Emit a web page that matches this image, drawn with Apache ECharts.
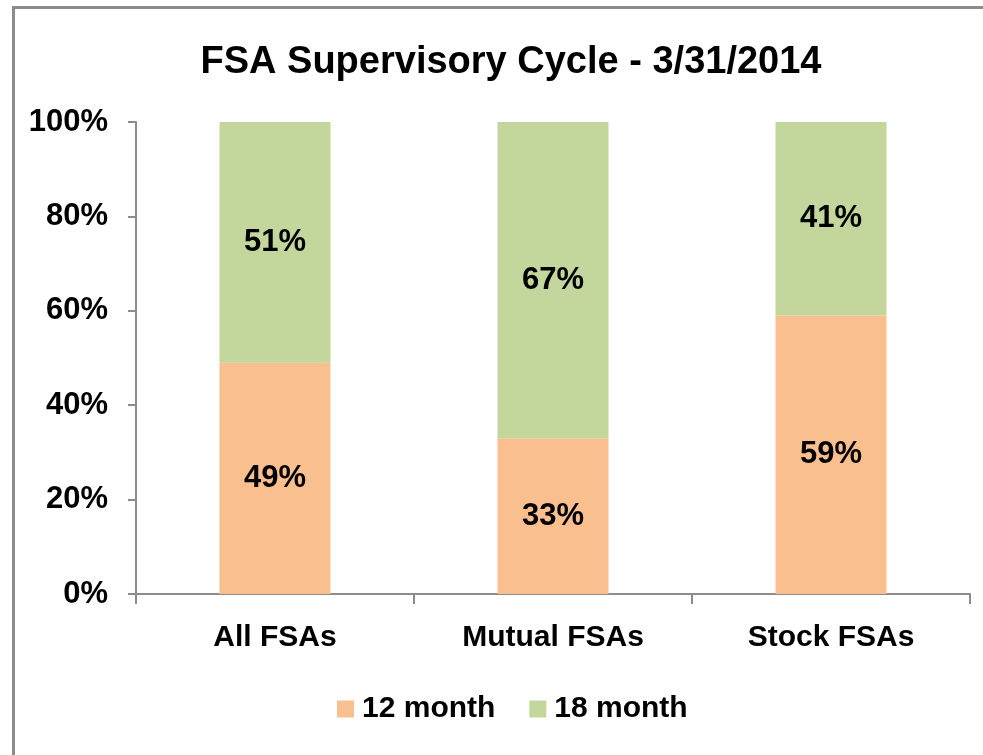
<!DOCTYPE html>
<html>
<head>
<meta charset="utf-8">
<script src="https://cdn.jsdelivr.net/npm/echarts@6/dist/echarts.min.js"></script>
<style>
  html, body { margin: 0; padding: 0; background: #fff; }
  #frame {
    position: absolute; left: 12px; top: 6px; width: 1000px; height: 800px;
    border-left: 3px solid #8c8c8c; border-top: 3px solid #8c8c8c;
  }
  #chart { position: absolute; left: 0; top: 0; width: 983px; height: 755px; }
</style>
</head>
<body>
<div id="frame"></div>
<div id="chart"></div>
<script>
const categories = ['All FSAs', 'Mutual FSAs', 'Stock FSAs']
const month12 = [49, 33, 59]
const month18 = [51, 67, 41]
const yTicks = [0, 20, 40, 60, 80, 100]

const font = 'Arial, "Liberation Sans", sans-serif'
const chart = echarts.init(document.getElementById('chart'))

const labelStyle = {
  show: true,
  position: 'inside',
  formatter: '{c}%',
  color: '#000',
  fontWeight: 'bold',
  fontSize: 31,
  fontFamily: font
}

chart.setOption({
  animation: false,
  title: {
    text: 'FSA Supervisory Cycle - 3/31/2014',
    left: 506,
    textAlign: 'center',
    top: 39,
    textStyle: { fontSize: 38, fontWeight: 'bold', color: '#000', fontFamily: font }
  },
  legend: {
    left: 332,
    top: 689,
    itemWidth: 17,
    itemHeight: 17,
    itemGap: 34,
    icon: 'rect',
    textStyle: { fontSize: 30, fontWeight: 'bold', color: '#000', fontFamily: font, padding: [0, 0, 0, 3] },
    data: ['12 month', '18 month']
  },
  grid: { left: 136, right: 13, top: 122, bottom: 161 },
  xAxis: {
    type: 'category',
    data: categories,
    axisLine: { lineStyle: { color: '#8c8c8c', width: 2 } },
    axisTick: { show: true, length: 10, inside: false, lineStyle: { color: '#8c8c8c', width: 2 } },
    axisLabel: { color: '#000', fontSize: 30, fontWeight: 'bold', fontFamily: font, margin: 29 }
  },
  yAxis: {
    type: 'value',
    min: 0,
    max: 100,
    interval: 20,
    axisLine: { show: true, lineStyle: { color: '#8c8c8c', width: 2 } },
    axisTick: { show: true, length: 8, lineStyle: { color: '#8c8c8c', width: 2 } },
    splitLine: { show: false },
    axisLabel: {
      color: '#000', fontSize: 31, fontWeight: 'bold', fontFamily: font, margin: 28,
      formatter: v => (yTicks.includes(v) ? v + '%' : '')
    }
  },
  series: [
    {
      name: '12 month',
      type: 'bar',
      stack: 'cycle',
      barWidth: 111,
      data: month12,
      itemStyle: { color: '#F9BF8F' },
      label: labelStyle
    },
    {
      name: '18 month',
      type: 'bar',
      stack: 'cycle',
      barWidth: 111,
      data: month18,
      itemStyle: { color: '#C3D69B' },
      label: labelStyle
    }
  ]
})
</script>
</body>
</html>
